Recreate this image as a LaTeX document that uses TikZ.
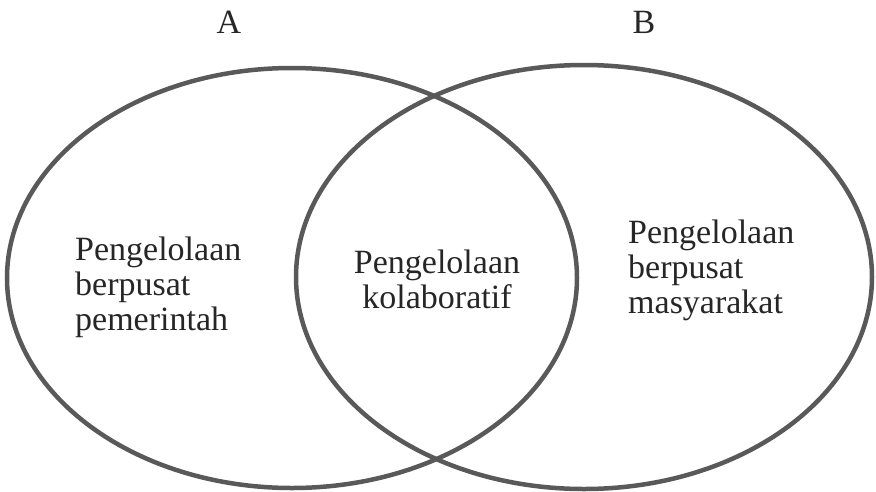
\documentclass[tikz,border=0pt]{standalone}
\usepackage{fontspec}
\setmainfont{Liberation Serif}
\begin{document}
\begin{tikzpicture}[
    x=1pt, y=-1pt,
    font=\fontsize{34}{35}\selectfont,
    ring/.style={draw=black!65, line width=4.5pt},
    label/.style={inner sep=0pt, text=black!85},
    block/.style={inner sep=0pt, text=black!85, anchor=base west, align=left}
]
\useasboundingbox (0,0) rectangle (876,491);

% The two sets
\draw[ring] (292,278) ellipse [x radius=285, y radius=210];
\draw[ring] (584,277) ellipse [x radius=288, y radius=212];

% Set names
\node[label, anchor=base] (setA) at (229,33) {A};
\node[label, anchor=base] (setB) at (644,33) {B};

% Left, middle and right parts (anchored on the last line)
\node[block] (gov) at (75,330) {Pengelolaan\\berpusat\\pemerintah};
\node[block, align=center, anchor=base] (collab) at (437,308) {Pengelolaan\\kolaboratif};
\node[block] (comm) at (628,313) {Pengelolaan\\berpusat\\masyarakat};

\end{tikzpicture}
\end{document}
